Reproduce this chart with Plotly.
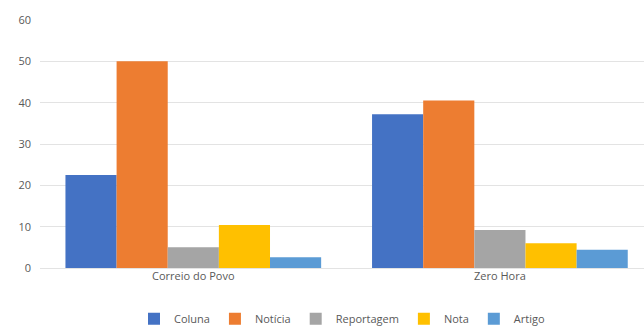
import plotly.graph_objects as go

categories = ["Correio do Povo", "Zero Hora"]
series_names = ["Coluna", "Notícia", "Reportagem", "Nota", "Artigo"]
coluna = [22.5, 37.2]
noticia = [50.0, 40.5]
reportagem = [5.0, 9.2]
nota = [10.4, 6.0]
artigo = [2.6, 4.4]
colors = ["#4472C4", "#ED7D31", "#A5A5A5", "#FFC000", "#5B9BD5"]
y_ticks = [0, 10, 20, 30, 40, 50, 60]

fig = go.Figure()
for name, vals, col in zip(series_names, [coluna, noticia, reportagem, nota, artigo], colors):
    fig.add_trace(go.Bar(x=categories, y=vals, name=name, marker=dict(color=col, line=dict(width=0))))

fig.update_layout(
    width=644, height=332,
    margin=dict(l=40, r=0, t=20, b=64),
    plot_bgcolor="white", paper_bgcolor="white",
    barmode="group", bargap=0.166, bargroupgap=0,
    font=dict(family="Open Sans", size=11, color="#595959"),
    legend=dict(orientation="h", x=0.5, xanchor="center", yref="container", y=0.04, yanchor="middle",
                font=dict(size=11, color="#595959"), itemwidth=30, tracegroupgap=0),
    xaxis=dict(range=[-0.5, 1.47], showgrid=False, zeroline=False, showline=False, ticks="",
               tickfont=dict(size=11, color="#595959")),
    yaxis=dict(range=[0, 60], tickvals=y_ticks, showgrid=True, gridcolor="#E3E3E3", gridwidth=1,
               zeroline=True, zerolinecolor="#E3E3E3", zerolinewidth=1, showline=False, ticks="",
               ticklabelstandoff=8, tickfont=dict(size=11, color="#595959")),
)
fig.write_html("out.html")
